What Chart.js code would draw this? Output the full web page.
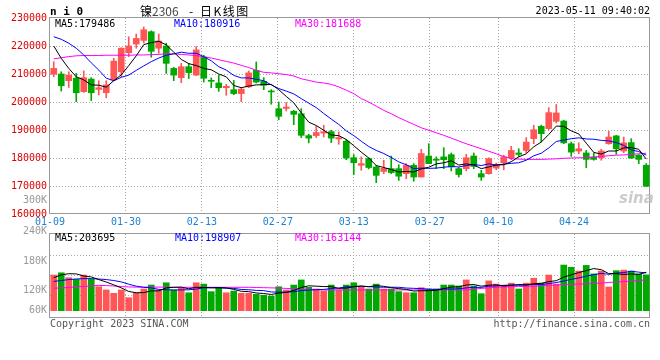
<!DOCTYPE html>
<html><head><meta charset="utf-8">
<script src="https://cdn.jsdelivr.net/npm/chart.js@4/dist/chart.umd.min.js"></script>
<style>
html,body{margin:0;padding:0;background:#fff;}
#wrap{position:relative;width:660px;height:360px;overflow:hidden;font-family:'DejaVu Sans Mono',monospace;}
canvas{position:absolute;left:0;}
#c1{top:0;}
#c2{top:190px;}
.t{position:absolute;white-space:nowrap;font-size:10px;line-height:12px;font-family:'DejaVu Sans Mono',monospace;}
.cjk{font-family:'Noto Sans CJK SC',sans-serif;font-size:12px;line-height:15px;color:#000;}
</style></head><body>
<div id="wrap">
<canvas id="c1" width="660" height="232"></canvas>
<canvas id="c2" width="660" height="170"></canvas>
<div class="t" style="left:50px;top:5px;font-size:11px;line-height:13px;font-weight:bold;color:#000;">n i 0</div>
<div class="t cjk" style="left:140px;top:3px;">镍<span style="color:#444;font-size:12px;">2306</span></div>
<div class="t cjk" style="left:189px;top:3px;">-</div>
<div class="t cjk" style="left:200px;top:3px;letter-spacing:1.5px;">日K线图</div>
<div class="t" style="right:10px;top:5px;color:#000;">2023-05-11 09:40:02</div>
<div class="t" style="left:55px;top:18px;color:#000;">MA5:179486</div>
<div class="t" style="left:174px;top:18px;color:#0000ff;">MA10:180916</div>
<div class="t" style="left:295px;top:18px;color:#ff00ff;">MA30:181688</div>
<div class="t" style="left:55px;top:232px;color:#000;">MA5:203695</div>
<div class="t" style="left:175px;top:232px;color:#0000ff;">MA10:198907</div>
<div class="t" style="left:295px;top:232px;color:#ff00ff;">MA30:163144</div>
<div class="t" style="left:50px;top:318px;color:#555;">Copyright 2023 SINA.COM</div>
<div class="t" style="right:10px;top:318px;color:#555;">http://finance.sina.com.cn</div>
<div class="t" style="left:619px;top:190px;font-family:'DejaVu Sans',sans-serif;font-size:15px;line-height:16px;font-style:italic;font-weight:bold;color:rgba(190,190,190,0.8);">sina</div>
</div>
<script>
const dates = ['01-09','01-10','01-11','01-12','01-13','01-16','01-17','01-18','01-19','01-20',
'01-30','01-31','02-01','02-02','02-03','02-06','02-07','02-08','02-09','02-10',
'02-13','02-14','02-15','02-16','02-17','02-20','02-21','02-22','02-23','02-24',
'02-27','02-28','03-01','03-02','03-03','03-06','03-07','03-08','03-09','03-10',
'03-13','03-14','03-15','03-16','03-17','03-20','03-21','03-22','03-23','03-24',
'03-27','03-28','03-29','03-30','03-31','04-03','04-04','04-06','04-07',
'04-10','04-11','04-12','04-13','04-14','04-17','04-18','04-19','04-20','04-21',
'04-24','04-25','04-26','04-27','04-28','05-04','05-05','05-08','05-09','05-10','05-11'];
const xTickDates = ['01-09','01-30','02-13','02-27','03-13','03-27','04-10','04-24'];

const open = [209900,210000,207600,208500,203700,208200,204500,203300,207900,210800,217600,220700,222000,225100,219200,220000,212000,208700,212600,209600,216100,207700,206800,205100,204400,203000,205400,211300,207400,203800,197600,197700,196700,195800,188000,188000,188900,189400,186800,186000,180100,177400,179800,176800,175200,176200,176200,174400,177400,173200,180700,179500,180400,181200,176200,176200,180700,174400,174400,176400,178300,180100,181800,182700,186900,191300,190500,193100,193200,185100,182500,181800,180400,180100,185100,187900,182500,185500,181000,177400];
const high = [214400,210800,210800,210200,211100,208700,207600,207600,215600,219400,223300,224300,226800,225400,224300,221000,212400,213800,213800,219800,216700,208600,209500,206300,207700,205100,211100,214300,208700,204400,200000,199800,197000,197600,188500,191300,191700,189900,189300,186600,181200,180400,180100,177400,179200,180700,177600,178000,178000,183100,185100,180400,183700,181800,176600,181300,181800,175600,180100,178200,181000,184200,183300,187300,191700,191700,198000,199100,193500,185700,185400,182700,181800,183100,189500,188100,187500,186900,181200,178000];
const low = [209000,203900,205200,200100,203400,200500,202500,201500,207600,209000,216200,219200,221100,216000,217400,210200,207600,206900,208400,209400,207100,205100,203800,202400,202600,200100,205100,206800,204400,199200,193700,196800,191900,187300,185400,187300,187500,185500,184900,179400,174100,175600,176100,171200,174400,174400,172000,172600,171700,173200,178000,176200,176200,175400,173200,175400,176200,172000,174200,175800,175800,179400,180600,181900,185100,185700,190100,192500,185100,180600,181500,176500,179200,179200,184900,181300,181900,179800,178000,169900];
const close = [212000,205800,209600,203300,208700,203300,205100,206100,214600,219200,220000,222700,225800,218100,221800,213800,209600,212600,210500,218600,208500,207400,205100,205600,203000,204600,210400,207100,206000,203600,194900,198200,195600,188100,187100,189100,189400,187100,187300,180000,178300,178000,176600,173800,176300,174800,173500,177400,173200,181600,178000,179200,179400,176800,174100,180100,177000,173200,179800,177600,180400,182700,181300,185700,190100,188700,196200,196100,185400,182100,183300,179500,179500,182500,187500,183300,185400,180000,179500,169900];

const ma5 = [220000,215600,212000,209000,207900,206100,206000,205300,207600,209700,213000,216500,220500,221200,221700,220400,217800,215200,213700,213000,212000,211500,210000,209000,205900,205100,205700,206100,206200,206300,204400,202000,199700,196100,192800,191600,189900,188200,188000,186600,184400,182100,180000,177300,176600,175900,175000,175200,175000,176100,176700,177900,178300,179000,177500,177900,177500,176200,176800,177500,177600,178700,180400,181500,184000,185700,188400,191400,191300,189700,188600,185300,182000,181400,182500,182500,183600,183700,183100,179600];
const ma10 = [223300,222400,221000,219200,216800,214000,211400,208500,207600,208800,209600,211300,212900,214400,215700,216700,217200,217800,217400,217400,216200,214700,212600,211400,209500,208600,208600,208100,207600,206100,204800,203900,202900,201200,199600,198000,195900,193900,192000,189700,188000,186000,184100,182700,181600,180200,178600,177600,176200,176400,176300,176400,176700,177000,176800,177300,177700,177300,177900,177500,177800,178100,178300,179200,180800,181700,183600,185900,186400,186900,187200,186800,186700,186300,186100,185500,184500,182900,182300,181000];
const ma30 = [215400,215800,216200,216500,216600,216600,216600,216700,216700,216700,216700,216800,216800,216900,217000,217200,217200,217000,216800,216600,216100,215700,215100,214500,213900,213100,212300,211300,210600,210400,210100,209800,209300,208300,207700,207100,206800,206300,205400,204200,203000,201200,200000,198500,197000,195800,194400,193200,192000,190800,189900,189000,188100,187100,186100,185100,184200,183300,182400,181500,180500,179800,179600,179500,179500,179500,179600,179700,179900,180000,180100,180100,180300,180600,180800,181000,181100,181300,181500,181700];

const volume = [189000,201000,175000,166000,189000,166000,127000,110000,92000,110000,69000,95000,115000,136000,110000,148000,110000,119000,95000,148000,141000,101000,122000,95000,104000,92000,92000,87000,82000,78000,127000,110000,136000,163000,124000,115000,104000,136000,110000,136000,148000,124000,115000,141000,115000,115000,101000,95000,95000,122000,115000,115000,136000,136000,131000,163000,131000,90000,158000,141000,136000,146000,115000,146000,172000,146000,189000,141000,242000,230000,210000,240000,195000,210000,126000,212000,215000,210000,195000,190000];
const volMa5 = [175000,190000,196000,195000,184000,179000,165000,152000,137000,121000,102000,95000,96000,105000,105000,121000,124000,125000,116000,124000,123000,121000,121000,121000,113000,103000,101000,94000,91000,86000,93000,97000,107000,123000,132000,130000,128000,128000,118000,120000,127000,131000,127000,133000,129000,122000,117000,113000,104000,106000,106000,108000,117000,125000,127000,136000,139000,130000,135000,137000,131000,134000,139000,137000,143000,145000,154000,159000,178000,190000,202000,212400,223400,217400,196400,196400,192000,195000,192000,204000];
const volMa10 = [155000,160000,165000,168000,170000,170000,168000,165000,160000,152500,140500,129900,123900,120900,113000,111200,109500,110400,110700,114500,121700,122300,123000,118900,118300,112700,110900,107700,106400,99400,98000,98900,100300,107100,109100,111400,112600,117500,120300,126100,128200,129600,127500,125300,124400,124400,124100,120000,118500,117100,113800,112900,115000,114500,116100,120900,123900,123400,129700,131600,133700,136800,134700,135700,139800,138100,143900,149000,157400,166300,173700,183100,191100,197500,192900,199500,202100,209000,204300,200300];
const volMa30 = [119000,121000,123000,127000,129000,131000,134000,133000,131000,128000,126000,125000,125000,125000,125000,125000,124000,124000,124000,124000,124000,124000,124000,124000,124000,124000,124000,123000,122000,121000,120000,118000,116000,114000,112000,111000,110000,110000,110000,110000,110000,110000,110000,110000,110000,110000,110000,110000,110000,110000,110000,110000,110000,110000,110000,110000,114000,118000,121000,124000,126000,127000,128000,129000,130000,132000,134000,136000,139000,140000,141000,142000,144000,146000,150000,152000,154000,157000,160000,163000];

const volTickLabels = ['60K','120K','180K','240K','300K'];
const volTickValues = [2100,108100,259700,422400,586600];
const volGridValues = [83200,189200,295200];

const UP = '#ff5555', DOWN = '#00a800';
const candleColors = close.map((c,i) => c >= open[i] ? UP : DOWN);
const MONO = 'DejaVu Sans Mono';

const framePlugin = {
  id: 'frame',
  beforeDatasetsDraw(chart) {
    const {ctx, chartArea: a} = chart;
    ctx.save();
    ctx.strokeStyle = '#999';
    ctx.lineWidth = 1;
    ctx.strokeRect(a.left - 0.5, a.top - 0.5, a.right - a.left, a.bottom - a.top);
    ctx.restore();
  }
};

const tickIdx = xTickDates.map(d => dates.indexOf(d));
function gridX(hideLabels) {
  return {
    type: 'linear', position: 'bottom', min: 0, max: dates.length - 1, offset: false,
    afterBuildTicks(s) { s.ticks = tickIdx.map(v => ({value: v})); },
    afterFit(s) { s.height = hideLabels ? 0 : 18; },
    ticks: {
      display: !hideLabels, autoSkip: false, maxRotation: 0, padding: 2,
      color: '#1e82d2', font: {family: MONO, size: 10},
      callback: (v) => xTickDates[tickIdx.indexOf(v)]
    },
    grid: { offset: false, drawTicks: false, color: c => (c.tick && c.tick.value === 0) ? 'rgba(0,0,0,0)' : '#a8a8a8', lineWidth: 1 },
    border: { display: false, dash: [1, 2] }
  };
}

function lineDs(data, color) {
  return { type: 'line', data, borderColor: color, borderWidth: 1, pointRadius: 0, tension: 0, fill: false, order: 0, xAxisID: 'x', yAxisID: 'y' };
}

new Chart(document.getElementById('c1'), {
  type: 'bar',
  data: {
    labels: dates,
    datasets: [
      lineDs(ma5, '#000000'),
      lineDs(ma10, '#0000ff'),
      lineDs(ma30, '#ff00ff'),
      { type: 'bar', data: open.map((o,i) => [o, close[i]]), backgroundColor: candleColors, barThickness: 6, grouped: false, minBarLength: 1, order: 1, xAxisID: 'x', yAxisID: 'y' },
      { type: 'bar', data: low.map((l,i) => [l, high[i]]), backgroundColor: candleColors, barThickness: 1, grouped: false, order: 2, xAxisID: 'x', yAxisID: 'y' }
    ]
  },
  options: {
    responsive: false, animation: false, events: [],
    layout: { padding: { left: 0, right: 10, top: 18, bottom: 0 } },
    plugins: { legend: { display: false }, tooltip: { enabled: false } },
    scales: {
      x: { type: 'category', display: false, offset: true },
      xg: gridX(false),
      y: {
        type: 'linear', position: 'left', min: 160000, max: 230000,
        afterFit(s) { s.width = 50; },
        ticks: { stepSize: 10000, color: '#dd0000', padding: 3, font: {family: MONO, size: 10}, callback: v => String(v) },
        grid: { drawTicks: false, color: c => (c.tick && (c.tick.value === 160000 || c.tick.value === 230000)) ? 'rgba(0,0,0,0)' : '#a8a8a8' },
        border: { display: false, dash: [1, 2] }
      }
    }
  },
  plugins: [framePlugin]
});

const volTicks = volTickValues.map((v,i) => ({value: v, label: volTickLabels[i]}))
  .concat(volGridValues.map(v => ({value: v, label: ''})))
  .sort((a,b) => a.value - b.value);

new Chart(document.getElementById('c2'), {
  type: 'bar',
  data: {
    labels: dates,
    datasets: [
      lineDs(volMa5, '#000000'),
      lineDs(volMa10, '#0000ff'),
      lineDs(volMa30, '#ff00ff'),
      { type: 'bar', data: volume, backgroundColor: candleColors, barThickness: 6, grouped: false, order: 1, xAxisID: 'x', yAxisID: 'y' }
    ]
  },
  options: {
    responsive: false, animation: false, events: [],
    layout: { padding: { left: 0, right: 10, top: 44, bottom: 42 } },
    plugins: { legend: { display: false }, tooltip: { enabled: false } },
    scales: {
      x: { type: 'category', display: false, offset: true },
      xg: gridX(true),
      y: {
        type: 'linear', position: 'left', min: -38700, max: 406500,
        afterFit(s) { s.width = 50; },
        afterBuildTicks(s) { s.ticks = volTicks.map(t => ({value: t.value})); },
        ticks: { autoSkip: false, color: '#999999', padding: 3, font: {family: MONO, size: 10},
          callback: v => { const t = volTicks.find(k => k.value === v); return t ? t.label : ''; } },
        grid: { drawTicks: false, color: c => (c.tick && volGridValues.includes(c.tick.value)) ? '#a8a8a8' : 'rgba(0,0,0,0)' },
        border: { display: false, dash: [1, 2] }
      }
    }
  },
  plugins: [framePlugin]
});
</script>
</body></html>
